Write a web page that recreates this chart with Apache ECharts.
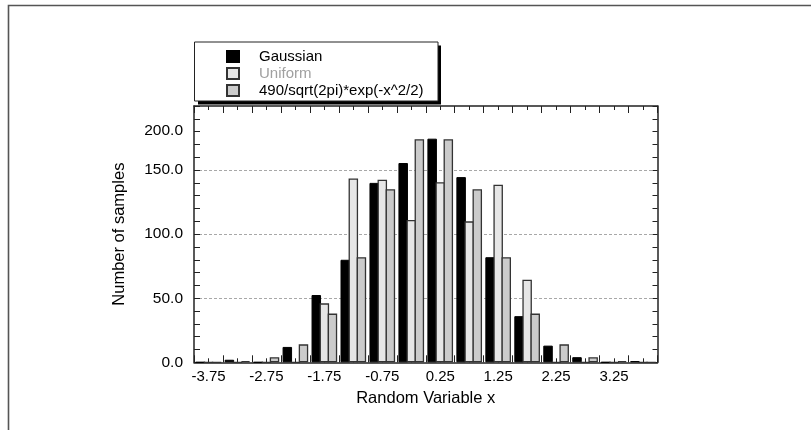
<!DOCTYPE html>
<html>
<head>
<meta charset="utf-8">
<script src="https://cdn.jsdelivr.net/npm/echarts@6/dist/echarts.min.js"></script>
<style>
html,body{margin:0;padding:0;background:#fff;}
#chart{width:811px;height:430px;}
</style>
</head>
<body>
<div id="chart"></div>
<script>
// ---- data ----
const binCenters = [-3.75, -3.25, -2.75, -2.25, -1.75, -1.25, -0.75, -0.25, 0.25, 0.75, 1.25, 1.75, 2.25, 2.75, 3.25, 3.75];
const gaussian   = [0, 2, 0, 12, 52.5, 80, 140, 155.5, 174.5, 144.5, 82, 36, 13, 4, 0, 1];
const uniform    = [0, 0, 0, 0, 46, 143.5, 142.5, 111, 140.5, 110, 138.5, 64.5, 0, 0, 0, 0];
const formula    = [0, 1, 4, 14, 38, 82, 135, 174, 174, 135, 82, 38, 14, 4, 1, 0];
const seriesNames = ['Gaussian', 'Uniform', '490/sqrt(2pi)*exp(-x^2/2)'];
const yMin = 0, yMax = 200, yStep = 50;
const xTitle = 'Random Variable x';
const yTitle = 'Number of samples';

const binWidth = binCenters[1] - binCenters[0];
const xMin = binCenters[0] - binWidth / 2;
const xMax = binCenters[binCenters.length - 1] + binWidth / 2;

const font = 'Liberation Sans, Arial, Helvetica, sans-serif';
const axisColor = '#222';

const chart = echarts.init(document.getElementById('chart'), null, {renderer: 'canvas'});

const tickAxis = (pos) => ({
  type: 'value', position: pos, min: xMin, max: xMax, interval: binWidth,
  axisLine: {show: pos === 'top', onZero: false, lineStyle: {color: axisColor, width: 1.5}},
  axisLabel: {show: false},
  axisTick: {show: true, inside: true, length: 7, lineStyle: {color: axisColor, width: 1}},
  minorTick: {show: true, splitNumber: 2, length: 4, lineStyle: {color: axisColor, width: 1}},
  splitLine: {show: false}
});

const barStyle = [
  {color: '#000000', borderColor: '#000000', borderWidth: 1},
  {color: '#e6e6e6', borderColor: '#333333', borderWidth: 1.3},
  {color: '#cbcbcb', borderColor: '#333333', borderWidth: 1.3}
];
const seriesData = [gaussian, uniform, formula];

const option = {
  animation: false,
  backgroundColor: '#ffffff',
  textStyle: {fontFamily: font},
  grid: {left: 194, top: 106, right: 153.5, bottom: 67.7},
  graphic: [
    {type: 'rect', z: 0, silent: true, shape: {x: 8.5, y: 5.5, width: 1000, height: 1000},
     style: {fill: 'none', stroke: '#555', lineWidth: 1.6}},
    {type: 'rect', z: 1, silent: true, shape: {x: 198, y: 45.5, width: 243, height: 59}, style: {fill: '#000'}},
    {type: 'rect', z: 2, silent: true, shape: {x: 194.5, y: 42, width: 243.5, height: 59},
     style: {fill: '#fff', stroke: '#222', lineWidth: 1}}
  ],
  legend: {
    z: 10,
    orient: 'vertical',
    left: 226, top: 49, padding: 0,
    itemWidth: 12, itemHeight: 11, itemGap: 2,
    icon: 'rect',
    textStyle: {fontSize: 15, color: '#000', fontFamily: font, padding: [0, 0, 0, 15], lineHeight: 15},
    data: [
      {name: seriesNames[0]},
      {name: seriesNames[1], textStyle: {color: '#a0a0a0'}},
      {name: seriesNames[2]}
    ]
  },
  xAxis: [
    {
      type: 'category', position: 'bottom', data: binCenters.map(v => v.toFixed(2)),
      boundaryGap: true,
      axisLine: {show: true, onZero: false, lineStyle: {color: axisColor, width: 1.5}},
      axisTick: {show: false},
      axisLabel: {interval: 1, fontSize: 15, color: '#000', margin: 7, fontFamily: font},
      splitLine: {show: false},
      name: xTitle, nameLocation: 'middle', nameGap: 28,
      nameTextStyle: {fontSize: 16.5, color: '#000', fontFamily: font}
    },
    tickAxis('bottom'),
    tickAxis('top')
  ],
  yAxis: [
    {
      type: 'value', position: 'left', min: yMin, max: yMax, interval: yStep,
      axisLine: {show: true, onZero: false, lineStyle: {color: axisColor, width: 1.5}},
      axisTick: {show: true, inside: true, length: 6, lineStyle: {color: axisColor}},
      minorTick: {show: true, splitNumber: 5, length: 6, lineStyle: {color: axisColor}},
      axisLabel: {
        formatter: v => (v === yMax ? '{top|' + v.toFixed(1) + '}' : v.toFixed(1)),
        fontSize: 15.5, color: '#000', margin: 11, fontFamily: font,
        rich: {top: {fontSize: 15.5, color: '#000', fontFamily: font, padding: [50, 0, 0, 0]}}
      },
      splitLine: {show: true, showMinLine: false, showMaxLine: false,
                  lineStyle: {color: '#a8a8a8', type: [3, 2], width: 1}},
      name: yTitle, nameLocation: 'middle', nameGap: 66,
      nameTextStyle: {fontSize: 16.5, color: '#000', fontFamily: font}
    },
    {
      type: 'value', position: 'right', min: yMin, max: yMax, interval: yStep,
      axisLine: {show: true, onZero: false, lineStyle: {color: axisColor, width: 1.5}},
      axisTick: {show: true, inside: true, length: 5, lineStyle: {color: axisColor}},
      minorTick: {show: true, splitNumber: 5, length: 5, lineStyle: {color: axisColor}},
      axisLabel: {show: false},
      splitLine: {show: false}
    }
  ],
  series: seriesNames.map((name, i) => ({
    name: name,
    type: 'bar',
    xAxisIndex: 0, yAxisIndex: 0,
    barWidth: 9.5,
    barGap: '-15%',
    itemStyle: barStyle[i],
    data: seriesData[i]
  }))
};
chart.setOption(option);
</script>
</body>
</html>
